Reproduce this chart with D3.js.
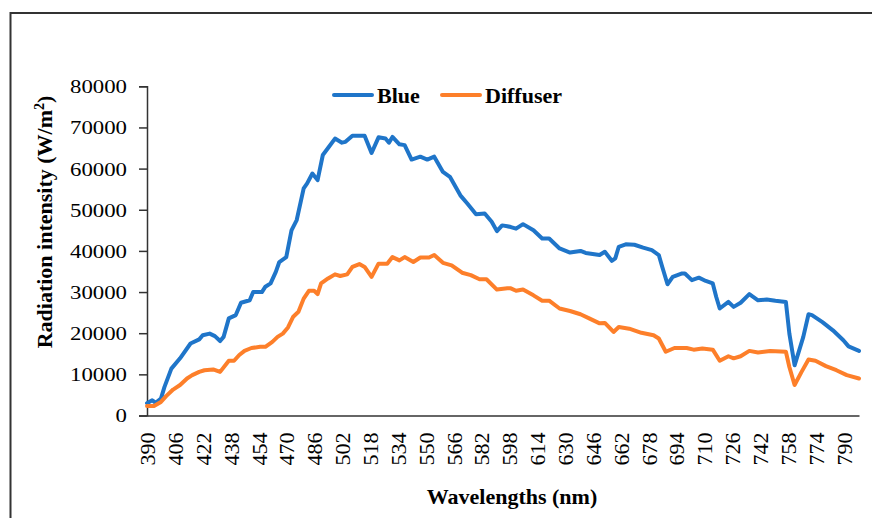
<!DOCTYPE html>
<html>
<head>
  <meta charset="utf-8">
  <title>Radiation intensity</title>
  <style>
    body { margin: 0; background: #fff; }
    svg text { font-family: "Liberation Serif", "Times New Roman", serif; fill: #000; }
    .line { fill: none; stroke-width: 4px; stroke-linejoin: round; stroke-linecap: round; }
  </style>
</head>
<body>
  <div id="chart"></div>

  <script src="https://cdn.jsdelivr.net/npm/d3@7"></script>
  <script>
    // values
    var blueNm = [390,393,395,398,400,404,409,415,420,422,426,429,432,434,437,441,444,449,451,456,458,461,464,466,470,473,476,480,482,485,488,491,494,498,502,504,508,515,519,523,527,529,531,535,538,542,547,551,555,560,564,570,574,579,584,588,591,594,597,599,602,606,612,617,621,627,633,639,642,650,653,657,659,661,665,670,675,680,684,686,689,692,697,699,703,707,711,715,717,719,724,727,731,736,741,746,751,757,759,762,767,770,772,778,784,790,793,799];
    var blueVal = [3000,3700,3100,4100,6900,11400,13900,17500,18500,19500,19900,19300,18100,19100,23600,24400,27400,28000,30000,30000,31300,32100,34900,37300,38500,45000,47500,55200,56400,58800,57200,63300,65000,67300,66300,66500,68000,68000,63800,67600,67300,66300,67700,65900,65700,62200,62900,62200,62900,59200,58000,53500,51500,48900,49100,47100,44800,46200,46000,45800,45400,46500,45000,43000,43000,40600,39600,40000,39500,39000,39800,37600,38200,41000,41600,41500,40800,40200,39000,36100,31900,33700,34500,34500,32900,33500,32700,32100,28800,26000,27600,26400,27400,29500,28000,28200,27900,27600,19900,12200,19100,24600,24400,22700,20700,18300,16800,15700];

    var diffNm = [390,394,398,401,405,409,413,416,420,423,428,432,437,440,443,446,450,455,458,462,465,468,471,474,477,480,483,486,488,490,494,498,501,505,508,512,515,519,523,528,531,535,538,543,547,552,555,560,565,571,576,581,585,591,597,599,602,606,612,617,621,627,633,639,644,650,653,658,661,667,674,681,684,688,693,700,704,709,715,719,724,727,731,736,741,748,757,759,762,766,770,774,780,786,792,799];
    var diffVal = [2300,2300,3300,4700,6300,7400,9000,9800,10600,11000,11200,10600,13300,13300,14700,15700,16400,16700,16700,17900,19100,19900,21400,24000,25200,28400,30300,30300,29500,32100,33300,34300,33900,34300,36100,36800,36100,33700,36900,36900,38500,37700,38500,37300,38400,38400,39000,37100,36500,34700,34100,33100,33100,30600,30900,30900,30300,30600,29200,27900,27900,26000,25400,24600,23600,22400,22500,20300,21500,21100,20100,19500,18700,15500,16400,16400,16000,16300,16000,13300,14400,13900,14400,15700,15300,15700,15500,11800,7400,10600,13600,13300,12000,11000,9800,9000];

    var xTicks = d3.range(390, 791, 16);
    var yTicks = [0, 10000, 20000, 30000, 40000, 50000, 60000, 70000, 80000];
    var seriesNames = ["Blue", "Diffuser"];
    var seriesColors = ["#1f75c9", "#fd7f2a"];

    var width = 872, height = 518;

    var svg = d3.select("#chart").append("svg")
      .attr("width", width)
      .attr("height", height);

    // outer frame (runs off the right and bottom edges)
    svg.append("rect")
      .attr("x", 10.5)
      .attr("y", 13)
      .attr("width", 880)
      .attr("height", 530)
      .attr("fill", "none")
      .attr("stroke", "#333")
      .attr("stroke-width", 2);

    var x = d3.scaleLinear().domain([390, 799]).range([147, 859]);
    var y = d3.scaleLinear().domain([0, 80000]).range([415.5, 86.3]);

    // y axis
    var yAxis = svg.append("g")
      .attr("transform", "translate(147,0)")
      .call(d3.axisLeft(y).tickValues(yTicks).tickSize(8).tickPadding(12).tickFormat(d3.format("d")));
    yAxis.select(".domain").attr("stroke", "#333").attr("stroke-width", 1.5);
    yAxis.selectAll(".tick line").attr("stroke", "#333").attr("stroke-width", 1.5);
    yAxis.selectAll(".tick text")
      .attr("font-size", 19)
      .attr("x", -20)
      .attr("dy", "0.34em")
      .attr("textLength", function(d) { return String(d).length * 11.4; })
      .attr("lengthAdjust", "spacingAndGlyphs");

    // x axis, no tick marks
    var xAxis = svg.append("g")
      .attr("transform", "translate(0,415.5)")
      .call(d3.axisBottom(x).tickValues(xTicks).tickSize(0).tickSizeOuter(0).tickFormat(d3.format("d")));
    xAxis.select(".domain").attr("stroke", "#333").attr("stroke-width", 1.5);
    xAxis.selectAll(".tick text")
      .attr("font-size", 22)
      .attr("transform", "rotate(-90)")
      .attr("text-anchor", "end")
      .attr("x", -17)
      .attr("y", 0)
      .attr("dy", "0.35em")
      .attr("textLength", 33)
      .attr("lengthAdjust", "spacingAndGlyphs");

    // axis titles
    var yTitle = svg.append("text")
      .attr("transform", "translate(52,222) rotate(-90)")
      .attr("text-anchor", "middle")
      .attr("font-size", 22)
      .attr("font-weight", "bold");
    yTitle.append("tspan").text("Radiation  intensity  (W/m");
    yTitle.append("tspan").attr("font-size", 14).attr("dy", -8).text("2");
    yTitle.append("tspan").attr("dy", 8).text(")");

    svg.append("text")
      .attr("x", 512)
      .attr("y", 504)
      .attr("text-anchor", "middle")
      .attr("font-size", 22)
      .attr("font-weight", "bold")
      .text("Wavelengths  (nm)");

    // series lines
    var line = d3.line()
      .x(function(d) { return x(d[0]); })
      .y(function(d) { return y(d[1]); });

    var series = [
      d3.zip(blueNm, blueVal),
      d3.zip(diffNm, diffVal)
    ];

    svg.selectAll("path.line")
      .data(series)
      .enter()
      .append("path")
      .attr("class", "line")
      .attr("stroke", function(d, i) { return seriesColors[i]; })
      .attr("d", line);

    // legend
    var legendX = [334, 442];
    var legend = svg.selectAll("g.legend")
      .data(seriesNames)
      .enter()
      .append("g")
      .attr("class", "legend")
      .attr("transform", function(d, i) { return "translate(" + legendX[i] + ",95)"; });

    legend.append("line")
      .attr("x1", 0)
      .attr("x2", 38)
      .attr("stroke", function(d, i) { return seriesColors[i]; })
      .attr("stroke-width", 4)
      .attr("stroke-linecap", "round");

    legend.append("text")
      .attr("x", 43)
      .attr("y", 7.5)
      .attr("font-size", 22)
      .attr("font-weight", "bold")
      .text(function(d) { return d; });
  </script>
</body>
</html>
